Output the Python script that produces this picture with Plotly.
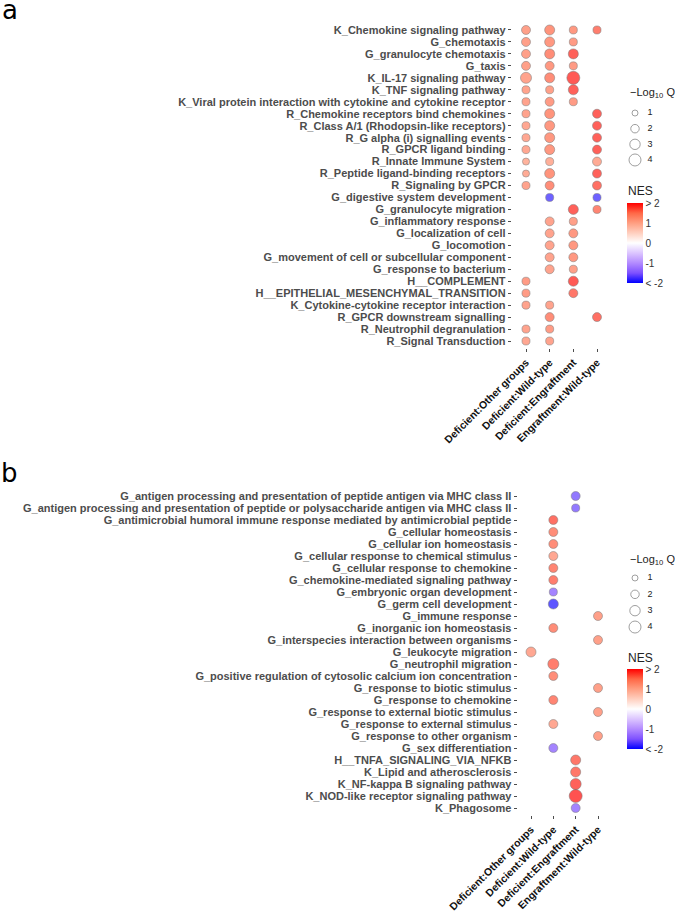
import plotly.graph_objects as go

W, H = 675, 912

groups = ["Deficient:Other groups", "Deficient:Wild-type",
          "Deficient:Engraftment", "Engraftment:Wild-type"]

# ---------------- Panel a ----------------
terms_a = [
    "K_Chemokine signaling pathway", "G_chemotaxis", "G_granulocyte chemotaxis", "G_taxis",
    "K_IL-17 signaling pathway", "K_TNF signaling pathway",
    "K_Viral protein interaction with cytokine and cytokine receptor",
    "R_Chemokine receptors bind chemokines", "R_Class A/1 (Rhodopsin-like receptors)",
    "R_G alpha (i) signalling events", "R_GPCR ligand binding", "R_Innate Immune System",
    "R_Peptide ligand-binding receptors", "R_Signaling by GPCR", "G_digestive system development",
    "G_granulocyte migration", "G_inflammatory response", "G_localization of cell",
    "G_locomotion", "G_movement of cell or subcellular component", "G_response to bacterium",
    "H__COMPLEMENT", "H__EPITHELIAL_MESENCHYMAL_TRANSITION",
    "K_Cytokine-cytokine receptor interaction", "R_GPCR downstream signalling",
    "R_Neutrophil degranulation", "R_Signal Transduction",
]
N = None
nes_a_other = [1.35, 1.35, 1.35, 1.35, 1.3, 1.3, 1.3, 1.3, 1.25, 1.25, 1.25, 1.1, 1.2, 1.3,
               N, N, N, N, N, N, N, 1.4, 1.4, 1.3, N, 1.3, 1.25]
q_a_other = [2.25, 2.25, 2.25, 2.25, 3.4, 1.8, 1.8, 1.8, 1.8, 1.8, 1.8, 1.4, 1.4, 1.8,
             N, N, N, N, N, N, N, 1.8, 1.8, 1.8, N, 1.8, 1.8]
nes_a_wt = [1.5, 1.45, 1.55, 1.45, 1.55, 1.35, 1.4, 1.5, 1.45, 1.45, 1.45, 1.15, 1.5, 1.55,
            -1.8, N, 1.3, 1.3, 1.3, 1.3, 1.3, N, N, 1.3, 1.55, 1.4, 1.3]
q_a_wt = [2.8, 2.8, 2.8, 2.25, 2.8, 1.8, 2.25, 2.8, 2.8, 2.8, 2.8, 1.8, 2.8, 2.25,
          1.8, N, 2.25, 2.25, 2.25, 2.25, 2.25, N, N, 1.8, 2.25, 1.8, 1.8]
nes_a_eng = [1.45, 1.4, 1.85, 1.4, 1.9, 1.85, 1.4, N, N, N, N, N, N, N,
             N, 1.85, 1.35, 1.45, 1.45, 1.45, 1.35, 1.9, 1.7, N, N, N, N]
q_a_eng = [1.8, 1.8, 2.8, 1.8, 4.7, 2.8, 1.8, N, N, N, N, N, N, N,
           N, 2.8, 1.8, 2.25, 2.25, 2.25, 1.8, 2.8, 2.25, N, N, N, N]
nes_a_engwt = [1.65, N, N, N, N, N, N, 1.85, 1.85, 1.85, 1.85, 1.2, 1.85, 1.75,
               -1.8, 1.6, N, N, N, N, N, N, N, N, 1.75, N, N]
q_a_engwt = [1.8, N, N, N, N, N, N, 2.25, 2.25, 2.25, 2.25, 2.25, 2.25, 2.25,
             1.8, 1.8, N, N, N, N, N, N, N, N, 2.25, N, N]

# ---------------- Panel b ----------------
terms_b = [
    "G_antigen processing and presentation of peptide antigen via MHC class II",
    "G_antigen processing and presentation of peptide or polysaccharide antigen via MHC class II",
    "G_antimicrobial humoral immune response mediated by antimicrobial peptide",
    "G_cellular homeostasis", "G_cellular ion homeostasis",
    "G_cellular response to chemical stimulus", "G_cellular response to chemokine",
    "G_chemokine-mediated signaling pathway", "G_embryonic organ development",
    "G_germ cell development", "G_immune response", "G_inorganic ion homeostasis",
    "G_interspecies interaction between organisms", "G_leukocyte migration",
    "G_neutrophil migration", "G_positive regulation of cytosolic calcium ion concentration",
    "G_response to biotic stimulus", "G_response to chemokine",
    "G_response to external biotic stimulus", "G_response to external stimulus",
    "G_response to other organism", "G_sex differentiation", "H__TNFA_SIGNALING_VIA_NFKB",
    "K_Lipid and atherosclerosis", "K_NF-kappa B signaling pathway",
    "K_NOD-like receptor signaling pathway", "K_Phagosome",
]
nes_b_other = [N]*13 + [1.25] + [N]*13
q_b_other = [N]*13 + [2.8] + [N]*13
nes_b_wt = [N, N, 1.75, 1.55, 1.55, 1.25, 1.6, 1.65, -1.5, -1.9, N, 1.55, N, N,
            1.65, 1.55, N, 1.6, N, 1.25, N, -1.5, N, N, N, N, N]
q_b_wt = [N, N, 2.25, 2.25, 2.25, 2.25, 2.25, 2.25, 1.8, 2.8, N, 2.25, N, N,
          3.4, 2.25, N, 2.25, N, 2.25, N, 2.25, N, N, N, N, N]
nes_b_eng = [-1.6, -1.6, N, N, N, N, N, N, N, N, N, N, N, N,
             N, N, N, N, N, N, N, N, 1.7, 1.7, 1.85, 1.95, -1.5]
q_b_eng = [2.25, 1.8, N, N, N, N, N, N, N, N, N, N, N, N,
           N, N, N, N, N, N, N, N, 2.8, 2.8, 3.4, 4.7, 2.25]
nes_b_engwt = [N]*10 + [1.35, N, 1.35, N, N, N, 1.35, N, 1.35, N, 1.35] + [N]*6
q_b_engwt = [N]*10 + [2.25, N, 2.25, N, N, N, 2.25, N, 2.25, N, 2.25] + [N]*6

legend_q = [1, 2, 3, 4]
nes_ticks = [-2, -1, 0, 1, 2]
nes_ticktext = ["< -2", "-1", "0", "1", "> 2"]

# ---------------- helpers ----------------
def dia(q):
    return 6.0 * q ** 0.5

# gradient2 (blue - white - red), interpolated in Lab like ggplot
colorscale = [
    [0.0, "rgb(0,0,255)"], [0.125, "rgb(126,81,255)"], [0.25, "rgb(179,139,255)"],
    [0.375, "rgb(220,197,255)"], [0.5, "rgb(255,255,255)"], [0.625, "rgb(255,207,191)"],
    [0.75, "rgb(255,158,129)"], [0.875, "rgb(255,103,70)"], [1.0, "rgb(255,0,0)"],
]

def px_x(p):
    return p / W

def px_y(p):
    return 1 - p / H

fig = go.Figure()

def add_panel(terms, nes_cols, q_cols, xa, ya, cax):
    xs, ys, cs, ss = [], [], [], []
    for ci, (nes, q) in enumerate(zip(nes_cols, q_cols)):
        for ri, (n, s) in enumerate(zip(nes, q)):
            if n is None:
                continue
            xs.append(ci)
            ys.append(ri)
            cs.append(n)
            ss.append(dia(s))
    fig.add_trace(go.Scatter(
        x=xs, y=ys, mode="markers", xaxis=xa, yaxis=ya, showlegend=False,
        marker=dict(size=ss, color=cs, coloraxis=cax,
                    line=dict(color="rgba(70,70,70,0.75)", width=0.7)),
        cliponaxis=False,
    ))

add_panel(terms_a, [nes_a_other, nes_a_wt, nes_a_eng, nes_a_engwt],
          [q_a_other, q_a_wt, q_a_eng, q_a_engwt], "x", "y", "coloraxis")
add_panel(terms_b, [nes_b_other, nes_b_wt, nes_b_eng, nes_b_engwt],
          [q_b_other, q_b_wt, q_b_eng, q_b_engwt], "x2", "y2", "coloraxis2")

# size legends
for xa, ya in (("x3", "y3"), ("x4", "y4")):
    fig.add_trace(go.Scatter(
        x=[0]*len(legend_q), y=legend_q, mode="markers", xaxis=xa, yaxis=ya,
        showlegend=False, cliponaxis=False,
        marker=dict(size=[dia(v) for v in legend_q], color="rgba(255,255,255,0)",
                    line=dict(color="#555555", width=0.8)),
    ))
    fig.add_trace(go.Scatter(
        x=[1]*len(legend_q), y=legend_q, mode="text", xaxis=xa, yaxis=ya,
        text=[str(v) for v in legend_q], textposition="middle center",
        textfont=dict(family="Liberation Sans, Arial", size=9, color="#222222"),
        showlegend=False, cliponaxis=False,
    ))

ytick_font = dict(family="Liberation Sans, Arial", size=11, color="#4d4d4d", weight="bold")
xtick_font = dict(family="Liberation Sans, Arial", size=10.5, color="#111111", weight="bold")

def main_x(dom, anchor):
    return dict(domain=dom, anchor=anchor, range=[-0.6, 3.6], tickmode="array",
                tickvals=list(range(4)), ticktext=groups, tickangle=-45,
                tickfont=xtick_font, ticks="outside", ticklen=3, tickcolor="#4d4d4d",
                showgrid=False, zeroline=False, showline=False, automargin=False,
                fixedrange=True)

def main_y(dom, terms, anchor):
    n = len(terms)
    return dict(domain=dom, anchor=anchor, range=[n - 1 + 0.6, -0.6], tickmode="array",
                tickvals=list(range(n)), ticktext=terms, tickfont=ytick_font,
                ticks="outside", ticklen=3, tickcolor="#4d4d4d", showgrid=False,
                zeroline=False, showline=False, automargin=False, fixedrange=True)

def hidden(dom, rng, anchor):
    return dict(domain=dom, range=rng, anchor=anchor, visible=False, showgrid=False,
                zeroline=False, automargin=False, fixedrange=True)

def cbar(ytop):
    return dict(cmin=-2, cmax=2, colorscale=colorscale,
                colorbar=dict(x=px_x(627), xanchor="left", xpad=0,
                              y=px_y(ytop), yanchor="top", ypad=0,
                              len=80, lenmode="pixels", thickness=16,
                              thicknessmode="pixels", outlinewidth=0,
                              tickmode="array", tickvals=nes_ticks, ticktext=nes_ticktext,
                              ticks="", tickfont=dict(family="Liberation Sans, Arial",
                                                      size=10, color="#333333")))

ann_font = dict(family="Liberation Sans, Arial", size=11, color="#222222")
annotations = [
    dict(text="a", x=px_x(10), y=px_y(10), xref="paper", yref="paper", showarrow=False,
         xanchor="center", yanchor="middle",
         font=dict(family="DejaVu Sans", size=26, color="#000000")),
    dict(text="b", x=px_x(9), y=px_y(473), xref="paper", yref="paper", showarrow=False,
         xanchor="center", yanchor="middle",
         font=dict(family="DejaVu Sans", size=26, color="#000000")),
    dict(text="\u2212Log<sub>10</sub> Q", x=px_x(628), y=px_y(93), xref="paper",
         yref="paper", showarrow=False, xanchor="left", yanchor="middle", font=ann_font),
    dict(text="\u2212Log<sub>10</sub> Q", x=px_x(628), y=px_y(560), xref="paper",
         yref="paper", showarrow=False, xanchor="left", yanchor="middle", font=ann_font),
    dict(text="NES", x=px_x(626), y=px_y(191), xref="paper", yref="paper",
         showarrow=False, xanchor="left", yanchor="middle",
         font=dict(family="Liberation Sans, Arial", size=12, color="#222222")),
    dict(text="NES", x=px_x(626), y=px_y(658), xref="paper", yref="paper",
         showarrow=False, xanchor="left", yanchor="middle",
         font=dict(family="Liberation Sans, Arial", size=12, color="#222222")),
]

fig.update_layout(
    template="none",
    width=W, height=H, autosize=False,
    margin=dict(l=0, r=0, t=0, b=0),
    paper_bgcolor="white", plot_bgcolor="white",
    xaxis=main_x([px_x(511.8), px_x(611.2)], "y"),
    yaxis=main_y([px_y(348.2), px_y(22.8)], terms_a, "x"),
    xaxis2=main_x([px_x(517.6), px_x(611.4)], "y2"),
    yaxis2=main_y([px_y(815.2), px_y(488.8)], terms_b, "x2"),
    xaxis3=hidden([px_x(635), px_x(650)], [0, 1], "y3"),
    yaxis3=hidden([px_y(167.8), px_y(105.2)], [4.5, 0.5], "x3"),
    xaxis4=hidden([px_x(635), px_x(650)], [0, 1], "y4"),
    yaxis4=hidden([px_y(635.2), px_y(569.8)], [4.5, 0.5], "x4"),
    coloraxis=cbar(203),
    coloraxis2=cbar(669),
    annotations=annotations,
    showlegend=False,
)

fig.write_html(
    "out.html",
    config={"displayModeBar": False},
    post_script="document.body.style.margin='0';document.body.style.overflow='hidden';",
)
